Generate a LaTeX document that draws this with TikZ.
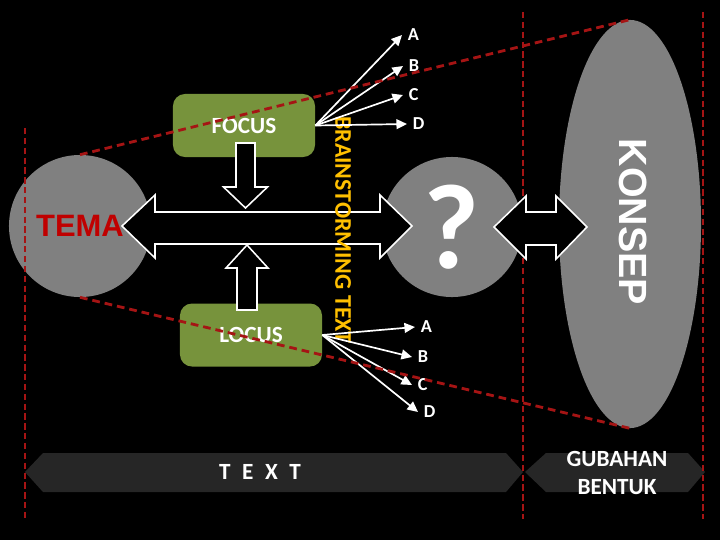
\documentclass[tikz,border=0pt]{standalone}
\usepackage{fontspec}
\setmainfont{Carlito}
\newfontfamily\arialfont{Liberation Sans}
\usetikzlibrary{arrows.meta,shapes.geometric}

\definecolor{slidegray}{RGB}{128,128,128}
\definecolor{boxgreen}{RGB}{119,147,60}
\definecolor{temared}{RGB}{192,0,0}
\definecolor{guidered}{RGB}{165,20,20}
\definecolor{stormyellow}{RGB}{255,192,0}
\definecolor{bandgray}{RGB}{38,38,38}

\begin{document}
\begin{tikzpicture}[x=0.025cm,y=-0.025cm,
  blob/.style={circle,fill=slidegray,inner sep=0pt},
  greenbox/.style={rectangle,rounded corners=0.3cm,fill=boxgreen,text=white,minimum width=3.55cm,minimum height=1.575cm,font=\bfseries\fontsize{16.5}{18}\selectfont},
  fanlabel/.style={anchor=west,inner xsep=4pt,inner ysep=0pt,text=white,font=\bfseries\fontsize{13}{15}\selectfont},
  fanarrow/.style={white,line width=1.2pt,-{Triangle[length=7.5pt,width=7pt]}},
  blockarrow/.style={draw=white,line width=1.1pt,fill=black,line join=miter},
  guide/.style={guidered,line width=2pt,dash pattern=on 5.5pt off 3.5pt},
  sideguide/.style={guidered,line width=2pt,dash pattern=on 4.5pt off 2.5pt},
  band/.style={fill=bandgray}]
\useasboundingbox (0,0) rectangle (720,540);
\fill[black] (0,0) rectangle (720,540);
% grey shapes
\node[blob,minimum size=3.55cm,text=temared,font=\arialfont\bfseries\fontsize{22}{24}\selectfont] (tema) at (80,226) {TEMA};
\node[blob,minimum size=3.5cm,text=white,font=\bfseries\fontsize{86}{90}\selectfont] (query) at (452,227) {?};
\node[ellipse,fill=slidegray,minimum width=3.55cm,minimum height=10.2cm] (konsep) at (630,224) {};
\node[rotate=-90,text=white,font=\arialfont\bfseries\fontsize{28}{30}\selectfont] (konseplabel) at (633,222) {KONSEP};
% focus / locus
\node[greenbox] (focus) at (244,125.5) {FOCUS};
\node[greenbox] (locus) at (251,335) {LOCUS};
\node[fanlabel] (fA) at (402,35) {A};
\node[fanlabel] (fB) at (403,66) {B};
\node[fanlabel] (fC) at (403,95) {C};
\node[fanlabel] (fD) at (407,124) {D};
\node[fanlabel] (lA) at (415,327) {A};
\node[fanlabel] (lB) at (412,357) {B};
\node[fanlabel] (lC) at (412,385) {C};
\node[fanlabel] (lD) at (418,412) {D};
% bottom bands
\fill[band] (25,472) -- (43,453) -- (506,453) -- (523,472) -- (506,492) -- (43,492) -- cycle;
\fill[band] (525,472) -- (546,453) -- (688,453) -- (705,472) -- (688,492) -- (546,492) -- cycle;
\node[text=white,font=\bfseries\fontsize{16.5}{18}\selectfont] (textband) at (260,472) {T\hspace{0.5em}E\hspace{0.5em}X\hspace{0.5em}T};
\node[text=white,align=center,font=\bfseries\fontsize{16.5}{20}\selectfont] (formband) at (617,473) {GUBAHAN\\BENTUK};
% block arrows
\draw[blockarrow] (236,143) -- (255,143) -- (255,187) -- (267.5,187) -- (245.5,208) -- (223.5,187) -- (236,187) -- cycle;
\draw[blockarrow] (247,245) -- (268,268) -- (257,268) -- (257,310) -- (237,310) -- (237,268) -- (226,268) -- cycle;
\draw[blockarrow] (122,226) -- (155,195) -- (155,212) -- (380,212) -- (380,195) -- (412,226) -- (380,258) -- (380,244) -- (155,244) -- (155,258) -- cycle;
\node[rotate=-90,text=stormyellow,font=\bfseries\fontsize{17}{19}\selectfont] (storm) at (343,230) {BRAINSTORMING TEXT};
\foreach \lab in {fA,fB,fC,fD} \draw[fanarrow] (focus.east) -- (\lab.west);
\foreach \lab in {lA,lB,lC,lD} \draw[fanarrow] (locus.east) -- (\lab.west);
% dashed guides
\draw[sideguide] (25,128) -- (25,519);
\draw[sideguide] (523,12) -- (523,519);
\draw[sideguide] (703,12) -- (703,519);
\draw[guide] (tema.north) -- (konsep.north);
\draw[guide] (tema.south) -- (konsep.south);
\draw[blockarrow] (494,227) -- (526,196) -- (526,212) -- (556,212) -- (556,196) -- (587,227) -- (556,259) -- (556,245) -- (526,245) -- (526,259) -- cycle;
\end{tikzpicture}
\end{document}
